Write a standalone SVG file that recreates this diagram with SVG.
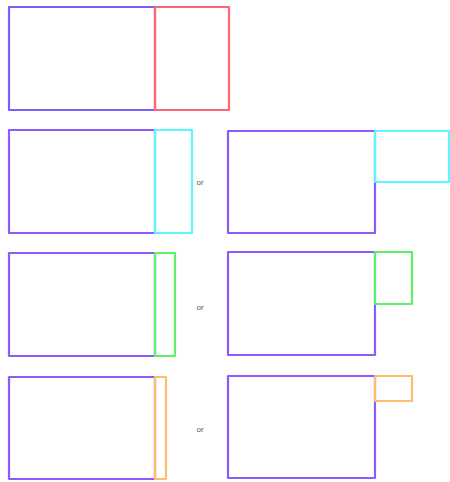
<svg xmlns="http://www.w3.org/2000/svg" width="450" height="482" viewBox="0 0 450 482">
<style>
rect{fill:none;stroke-width:2.2;stroke-linejoin:round}
.p{stroke:#8a5cff}
.r{stroke:#ff6670}
.c{stroke:#5cf6ff}
.g{stroke:#5ef068}
.o{stroke:#ffbb6e}
text{font-family:"Liberation Sans",Arial,sans-serif;font-size:8px;fill:#555}
</style>
<rect width="450" height="482" fill="#fff" stroke="none"/>
<g id="row1">
<rect class="p" style="stroke:#7f5cff" x="9" y="7" width="146" height="103"/>
<rect class="r" x="155" y="7" width="74" height="103"/>
</g>
<g id="row2-left">
<rect class="p" x="9" y="130" width="146" height="103"/>
<rect class="c" x="155" y="130" width="37" height="103"/>
</g>
<text x="200" y="185" text-anchor="middle">or</text>
<g id="row2-right">
<rect class="p" x="228" y="131" width="147" height="102"/>
<rect class="c" x="375" y="131" width="74" height="51"/>
</g>
<g id="row3-left">
<rect class="p" x="9" y="253" width="146" height="103"/>
<rect class="g" x="155" y="253" width="20" height="103"/>
</g>
<text x="200" y="310" text-anchor="middle">or</text>
<g id="row3-right">
<rect class="p" x="228" y="252" width="147" height="103"/>
<rect class="g" x="375" y="252" width="37" height="52"/>
</g>
<g id="row4-left">
<rect class="p" x="9" y="377" width="146" height="102"/>
<rect class="o" x="155" y="377" width="11" height="102"/>
</g>
<text x="200" y="432" text-anchor="middle">or</text>
<g id="row4-right">
<rect class="p" x="228" y="376" width="147" height="102"/>
<rect class="o" x="375" y="376" width="37" height="25"/>
</g>
</svg>
